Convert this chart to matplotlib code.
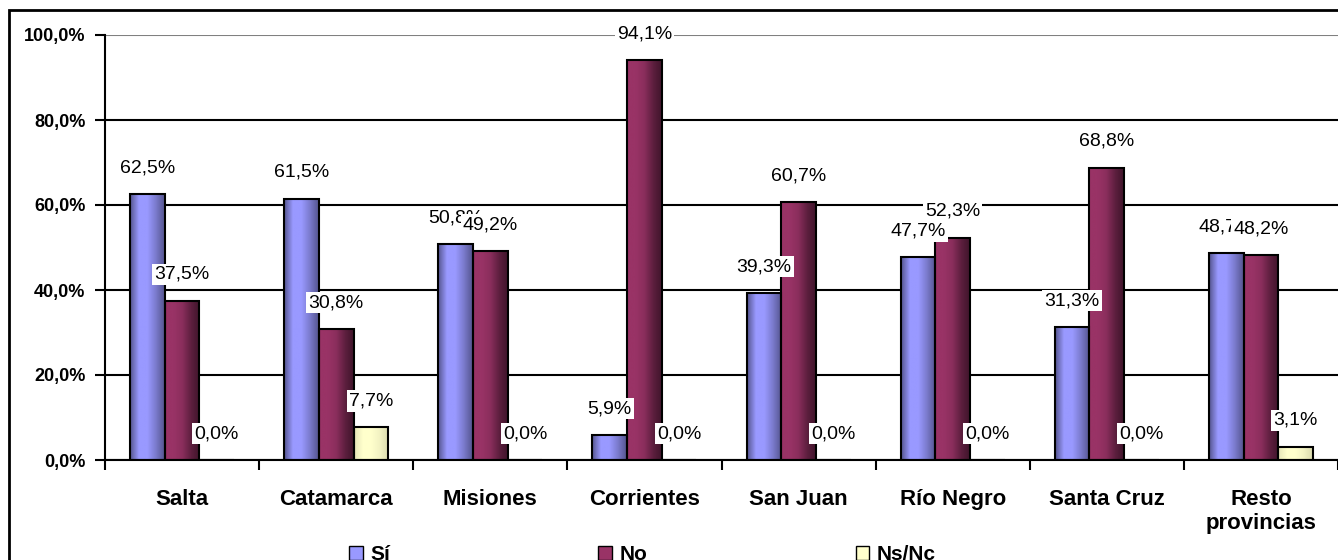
import matplotlib
matplotlib.use("Agg")
import matplotlib.pyplot as plt
import numpy as np
from matplotlib.colors import LinearSegmentedColormap
from matplotlib.patches import Rectangle

plt.rcParams['font.family'] = ['Liberation Sans', 'DejaVu Sans']

categories = ['Salta', 'Catamarca', 'Misiones', 'Corrientes', 'San Juan',
              'Río Negro', 'Santa Cruz', 'Resto\nprovincias']
si = [62.5, 61.5, 50.8, 5.9, 39.3, 47.7, 31.3, 48.7]
no = [37.5, 30.8, 49.2, 94.1, 60.7, 52.3, 68.8, 48.2]
nsnc = [0.0, 7.7, 0.0, 0.0, 0.0, 0.0, 0.0, 3.1]
series_names = ['Sí', 'No', 'Ns/Nc']
y_ticks = [0, 20, 40, 60, 80, 100]
y_labels = ['0,0%', '20,0%', '40,0%', '60,0%', '80,0%', '100,0%']

colors = ['#9999ff', '#993366', '#ffffcc']
grads = [['#55558f', '#9999ff', '#9999ff', '#7a7acc', '#55558f'],
         ['#993366', '#993366', '#8a2e5c', '#5e1f3f', '#40152b'],
         ['#e6e6b8', '#ffffcc', '#ffffcc', '#f2f2c2', '#d9d9ad']]

fig = plt.figure(figsize=(13.38, 5.6), dpi=100)
ax = fig.add_axes([105 / 1338, 1 - 460 / 560, 1 - 105 / 1338, 425 / 560])

x = np.arange(len(categories))
w = 0.225
data = [si, no, nsnc]

for k, vals in enumerate(data):
    bars = ax.bar(x + (k - 1) * w, vals, w, facecolor='none',
                  edgecolor='black', linewidth=1.5, zorder=3)
    cmap = LinearSegmentedColormap.from_list('g%d' % k, grads[k])
    grad = np.linspace(0, 1, 64).reshape(1, -1)
    for b in bars:
        if b.get_height() <= 0:
            continue
        x0, y0 = b.get_x(), b.get_y()
        im = ax.imshow(grad, cmap=cmap, aspect='auto', zorder=2,
                       extent=[x0, x0 + b.get_width(), y0, y0 + b.get_height()])
        im.set_clip_path(b)

# value labels
for k, vals in enumerate(data):
    for i, v in enumerate(vals):
        ax.annotate(f"{v:.1f}%".replace('.', ','), (x[i] + (k - 1) * w, v),
                    xytext=(0, 19), textcoords='offset points',
                    ha='center', va='center', fontsize=14, zorder=5,
                    bbox=dict(facecolor='white', edgecolor='none', pad=1.5))

ax.set_xlim(-0.5, len(categories) - 0.5)
ax.set_ylim(0, 100)
ax.set_yticks(y_ticks)
ax.set_yticklabels(y_labels, fontsize=13, fontweight='bold')
ax.set_xticks(np.arange(len(categories) + 1) - 0.5)
ax.set_xticklabels([])
ax.set_xticks(x, minor=True)
ax.set_xticklabels(categories, minor=True, fontsize=16, fontweight='bold')
ax.tick_params(axis='x', which='minor', length=0, pad=21)
ax.tick_params(axis='x', which='major', length=7, width=1.5, direction='out')
ax.tick_params(axis='y', length=7, width=1.5, direction='out', pad=7)

ax.grid(axis='y', color='black', linewidth=1.5, zorder=0)
ax.set_axisbelow(True)
ax.get_ygridlines()[-1].set_color('#808080')
for s in ['top', 'right']:
    ax.spines[s].set_visible(False)
for s in ['left', 'bottom']:
    ax.spines[s].set_linewidth(1.5)

# legend
handles = [Rectangle((0, 0), 1, 1, facecolor=c, edgecolor='black', linewidth=1)
           for c in colors]
fig.legend(handles, series_names, loc='upper left',
           bbox_to_anchor=(349 / 1338, 1 - 545 / 560),
           ncol=3, frameon=False, borderpad=0, borderaxespad=0,
           handlelength=0.67, handleheight=0.67,
           handletextpad=0.34, columnspacing=10,
           prop=dict(size=15, weight='bold'))

# outer border
fig.patches.append(Rectangle((9 / 1338, -0.1), 1.2, 1 - 10 / 560 + 0.1,
                             transform=fig.transFigure, fill=False,
                             edgecolor='black', linewidth=2))

fig.savefig('out.png', dpi=100)
